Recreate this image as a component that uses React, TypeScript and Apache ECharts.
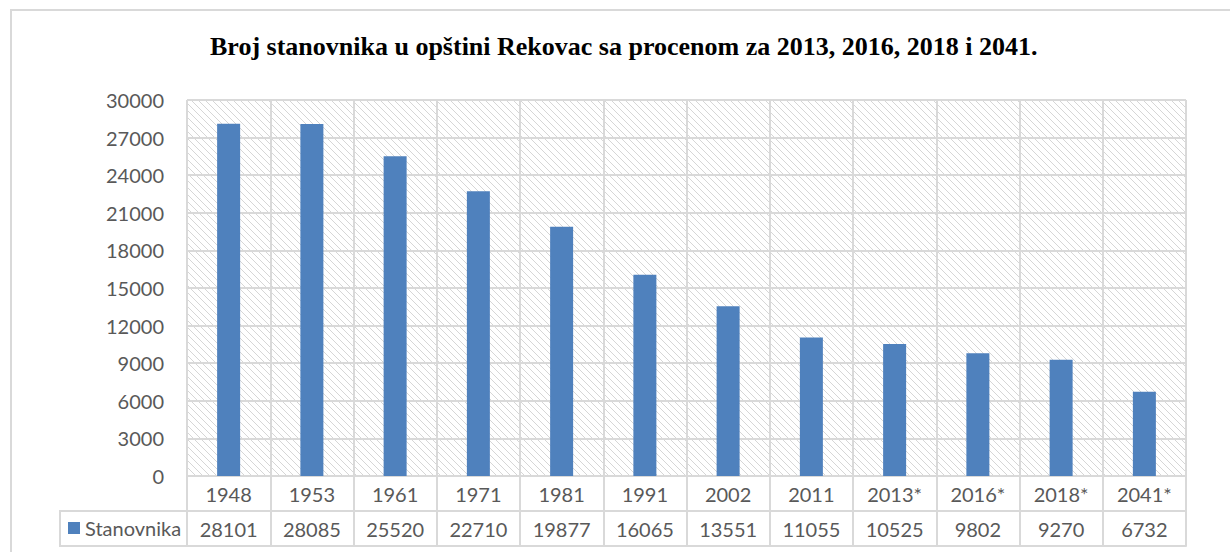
import React, { useEffect, useRef } from "react";
import * as echarts from "echarts";

const TITLE = "Broj stanovnika u opštini Rekovac sa procenom za 2013, 2016, 2018 i 2041.";
const SERIES_NAME = "Stanovnika";
const categories = ["1948", "1953", "1961", "1971", "1981", "1991", "2002", "2011", "2013*", "2016*", "2018*", "2041*"];
const population = [28101, 28085, 25520, 22710, 19877, 16065, 13551, 11055, 10525, 9802, 9270, 6732];
const yMin = 0;
const yMax = 30000;
const yStep = 3000;

const GRID_COLOR = "#d9d9d9";
const TEXT_COLOR = "#595959";
const BAR_COLOR = "#4f81bd";
const FONT = "Lato";
const HATCH = 7;

function makeHatch(): string {
  const size = HATCH;
  const c = document.createElement("canvas");
  c.width = size;
  c.height = size;
  const ctx = c.getContext("2d")!;
  ctx.fillStyle = "#ffffff";
  ctx.fillRect(0, 0, size, size);
  ctx.strokeStyle = "#d6d6d6";
  ctx.lineWidth = 1;
  ctx.beginPath();
  ctx.moveTo(-1, -1);
  ctx.lineTo(size + 1, size + 1);
  ctx.moveTo(-size - 1, -1);
  ctx.lineTo(1, size + 1);
  ctx.moveTo(size - 1, -1);
  ctx.lineTo(2 * size + 1, size + 1);
  ctx.stroke();
  return c.toDataURL();
}

export default function App() {
  const ref = useRef<HTMLDivElement>(null);
  useEffect(() => {
    if (!ref.current) return;
    const chart = echarts.init(ref.current, undefined, { renderer: "svg" });
    const hatch = makeHatch();
    const gridTop = 100;
    const gridLeft = 187;
    const gridWidth = 999;
    const gridHeight = 376;
    const rowH = 35;
    chart.setOption({
      animation: false,
      backgroundColor: "#ffffff",
      title: {
        text: TITLE,
        left: 205,
        top: 28,
        textStyle: {
          fontFamily: "Liberation Serif",
          fontWeight: "bold",
          fontSize: 26,
          color: "#000000",
        },
      },
      legend: {
        show: true,
        left: 68,
        top: 518,
        itemWidth: 12,
        itemHeight: 12,
        icon: "rect",
        padding: 0,
        textStyle: { fontFamily: FONT, fontSize: 20, color: TEXT_COLOR },
        data: [SERIES_NAME],
      },
      grid: {
        left: gridLeft,
        top: gridTop,
        width: gridWidth,
        height: gridHeight,
        show: true,
        borderWidth: 0,
        backgroundColor: { image: hatch, repeat: "repeat", imageWidth: HATCH, imageHeight: HATCH },
      },
      xAxis: [
        {
          type: "category",
          data: categories,
          position: "bottom",
          boundaryGap: true,
          axisLine: { show: true, lineStyle: { color: GRID_COLOR, width: 2 } },
          axisTick: { show: true, interval: 0, length: rowH * 2, lineStyle: { color: GRID_COLOR, width: 2 } },
          axisLabel: { interval: 0, margin: 8, fontFamily: FONT, fontSize: 20, color: TEXT_COLOR },
          splitLine: { show: true, interval: 0, lineStyle: { color: GRID_COLOR, width: 2 } },
        },
        {
          type: "category",
          data: population.map((v) => String(v)),
          position: "bottom",
          offset: rowH,
          boundaryGap: true,
          axisLine: { show: true, lineStyle: { color: GRID_COLOR, width: 2 } },
          axisTick: { show: false },
          axisLabel: { interval: 0, margin: 8, fontFamily: FONT, fontSize: 20, color: TEXT_COLOR },
          splitLine: { show: false },
        },
        {
          type: "category",
          data: categories,
          position: "bottom",
          offset: rowH * 2,
          boundaryGap: true,
          axisLine: { show: true, lineStyle: { color: GRID_COLOR, width: 2 } },
          axisTick: { show: false },
          axisLabel: { show: false },
          splitLine: { show: false },
        },
      ],
      yAxis: {
        type: "value",
        min: yMin,
        max: yMax,
        interval: yStep,
        axisLine: { show: false },
        axisTick: { show: false },
        axisLabel: {
          margin: 23,
          fontFamily: FONT,
          fontSize: 20,
          color: TEXT_COLOR,
          formatter: (v: number) => String(v),
        },
        splitLine: { show: true, lineStyle: { color: GRID_COLOR, width: 2 } },
      },
      series: [
        {
          type: "bar",
          name: SERIES_NAME,
          data: population,
          xAxisIndex: 0,
          barWidth: 23,
          itemStyle: { color: BAR_COLOR },
          z: 3,
        },
      ],
      graphic: [
        {
          type: "rect",
          shape: { x: 11, y: 10, width: 1400, height: 700 },
          style: { fill: "none", stroke: GRID_COLOR, lineWidth: 2 },
          silent: true,
          z: -10,
        },
        {
          type: "rect",
          shape: { x: 60, y: gridTop + gridHeight + rowH, width: gridLeft - 60, height: rowH },
          style: { fill: "none", stroke: GRID_COLOR, lineWidth: 2 },
          silent: true,
        },
      ],
    });
    return () => chart.dispose();
  }, []);
  return (
    <div
      ref={ref}
      style={{ position: "fixed", left: 0, top: 0, width: 1230, height: 552, background: "#fff" }}
    />
  );
}
